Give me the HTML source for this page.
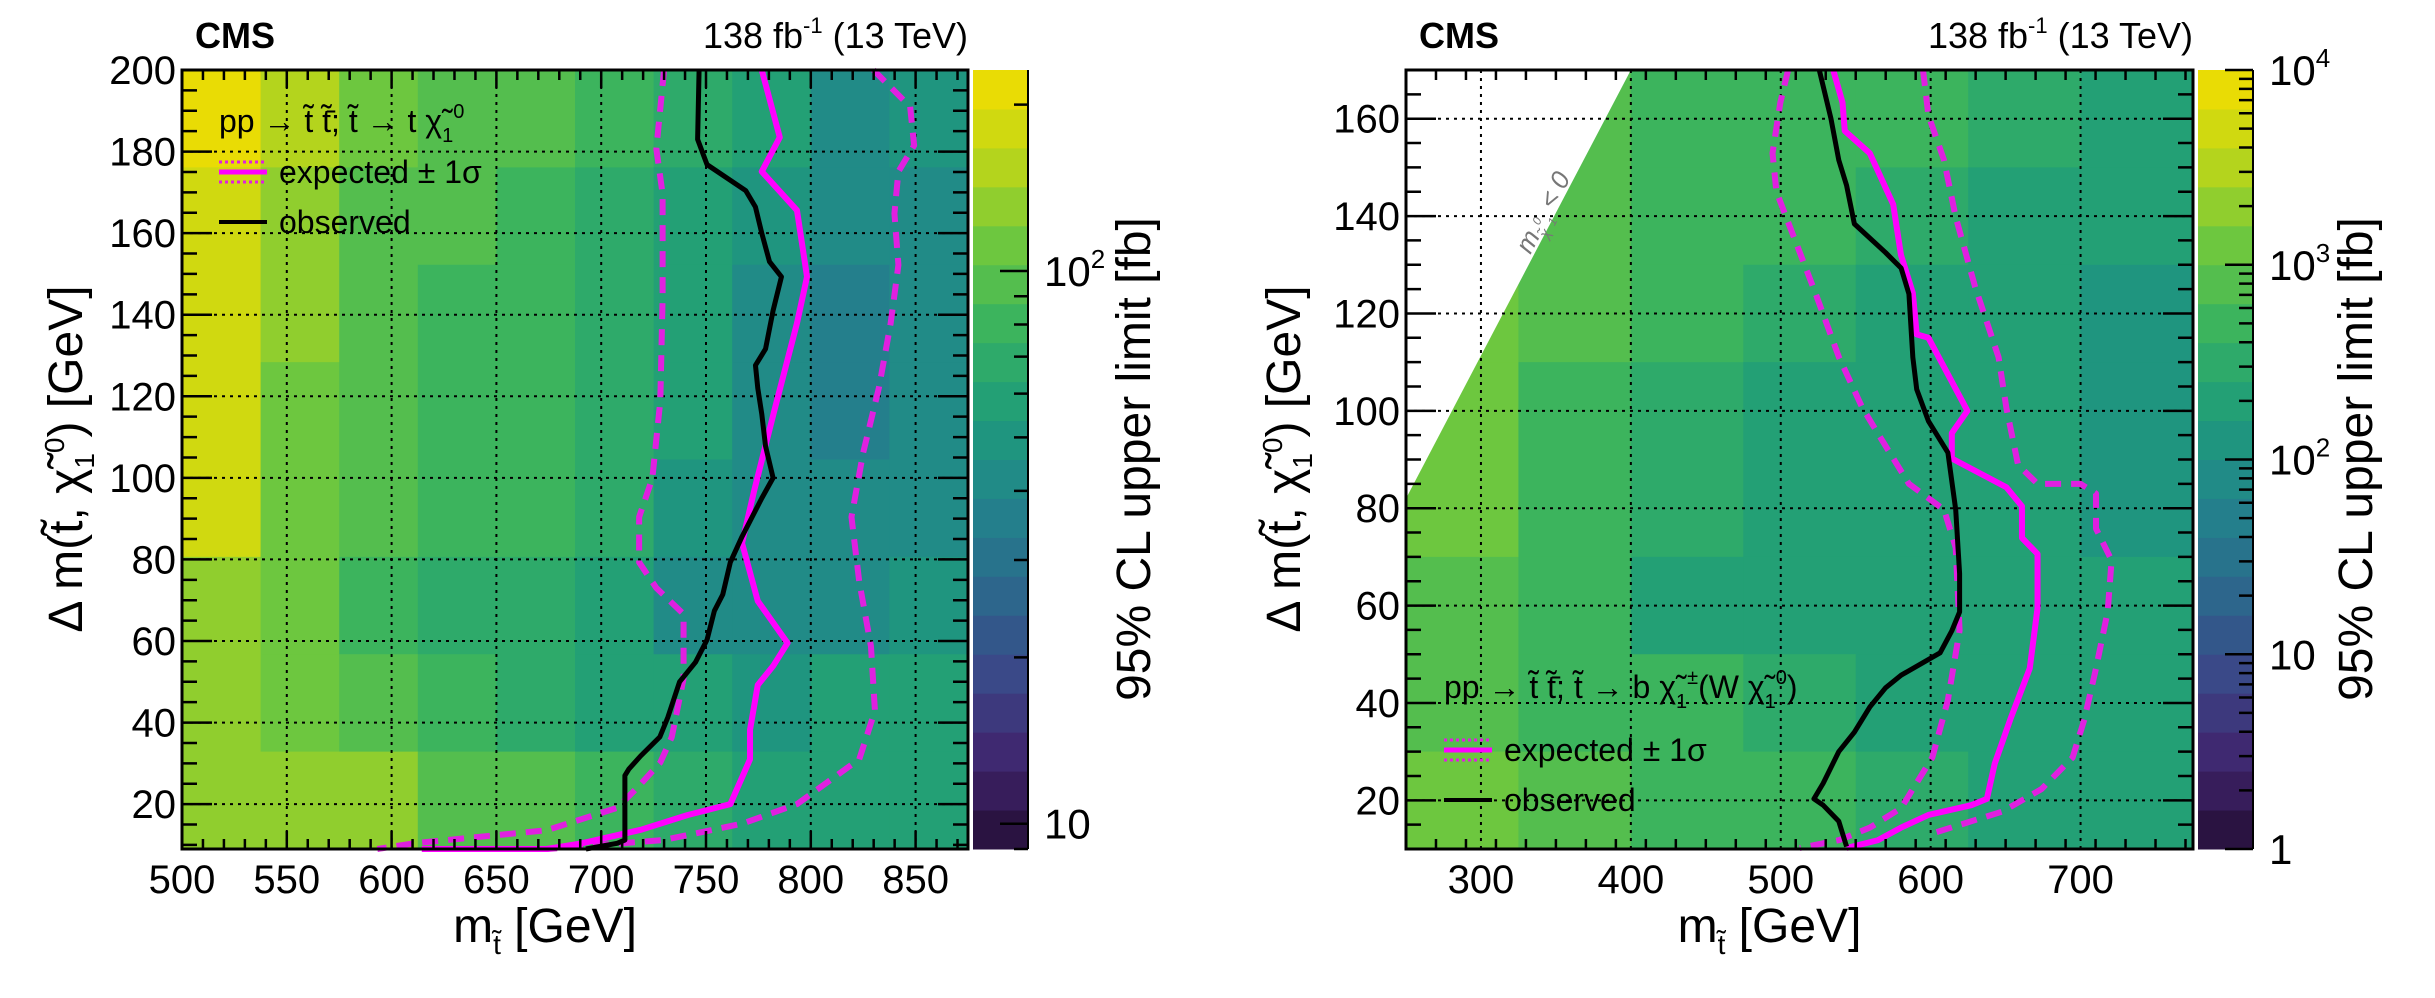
<!DOCTYPE html>
<html><head><meta charset="utf-8">
<style>
html,body{margin:0;padding:0;background:#fff;}
svg{display:block;font-family:"Liberation Sans",sans-serif;}
</style></head>
<body>
<svg id="chart" width="2435" height="998" viewBox="0 0 2435 998" xmlns="http://www.w3.org/2000/svg"></svg>
<script>
// ---------- LEFT PANEL DATA ----------
const leftXTicks = [500,550,600,650,700,750,800,850];
const leftYTicks = [20,40,60,80,100,120,140,160,180,200];
const leftGrid = [ // rows top->bottom (200..9), 10 columns 500..875 (fb)
 [200,150,110,100,90,80,70,55,45,50],
 [180,140,100,90,80,70,60,50,40,40],
 [180,130,95,85,75,70,60,45,38,40],
 [170,120,90,80,75,65,55,45,38,40],
 [170,120,90,80,75,65,50,42,40,45],
 [140,110,85,70,65,55,45,42,45,50],
 [140,120,100,80,70,60,55,50,55,60],
 [130,130,130,100,90,80,70,60,60,60]
];
const leftObsX = [746.7,746,750.5,769,773.6,776.6,780.3,786,782,778.4,773.6,774.7,776.6,778.4,782,776.6,767.2,761.6,758,754,750.5,745,737.4,731.8,728,718.8,713.2,711.3,711.3,707.6,692.7];
const leftObsY = [200,183,176.8,170.4,166.4,160,153,149.3,141,131.6,127.6,122,115.7,107.8,100,95,85.6,79.3,71.4,67.4,60.3,54.8,50,41.3,36.5,31.8,28.6,27,11.2,10.4,8.3];
const leftExpX = [776.6,785.2,776.6,793.4,798.2,793.4,782.2,772.9,767.2,774.7,788.9,782.2,774.7,771,771,761.6,741.1,718.8,690.8,674,614.4];
const leftExpY = [200,183.5,175.1,165.6,149.3,137.9,115.7,96.7,84,69.8,59.5,54,49.2,38.2,31,20,17.3,13.7,10.4,8.9,7.7];
const leftExpLoX = [730,726.3,729.3,729.3,728.2,724.4,718.1,718.1,726.3,739.3,739.3,733.7,728.2,717,707.6,674,610.7,593.2];
const leftExpLoY = [200,180.7,169.6,144.2,118.9,99.9,90.4,79.3,73,66.6,50.8,36.5,30.2,23.9,19.1,13.6,10.4,8];
const leftExpHiX = [829.9,847.4,849.3,841.8,839.9,841.8,838.1,832.5,825,819.4,823.1,828.7,830.6,823.1,793.4,767.2,729.9,674];
const leftExpHiY = [200,191,181.5,175.1,164.8,152.2,137.9,122.1,106.2,90.4,74.6,58.7,42.9,31,20,15.2,11.2,7.3];

// ---------- RIGHT PANEL DATA ----------
const rightXTicks = [300,400,500,600,700];
const rightYTicks = [20,40,60,80,100,120,140,160];
const rightGrid = [ // rows top->bottom (170..10), 7 columns 250..775 (fb)
 [1500,900,600,450,400,300,200],
 [1500,900,500,400,300,250,180],
 [1200,700,400,300,250,200,150],
 [1000,600,350,250,200,180,140],
 [1000,500,300,200,200,180,150],
 [900,500,250,200,180,180,160],
 [900,600,400,300,250,200,180],
 [1100,800,600,400,300,250,250]
];
const rightObsX = [525.7,533.5,538.7,543.9,549.1,569.9,580.3,585.5,588.1,590.7,598.5,611.5,616.7,619.3,619.3,614.1,606.3,580.3,569.9,559.5,549.1,538.7,528.3,522.1,528.3,538.7,543.9];
const rightObsY = [170,160,151.5,146.3,138.4,132.5,129.3,124,111,104.4,97.9,91.4,79.7,66.6,58.7,54.8,50.3,45.7,43.1,39.2,34,30,23.5,20.3,19,15.7,10.5];
const rightExpX = [535,541.2,542.7,559.4,575,580.2,588.1,590.7,598.5,624.5,614.1,614.1,650.5,660.9,660.9,671.3,671.3,666.1,653.1,642.7,637.5,627.1,598.5,580.3,564.7,543.9];
const rightExpY = [170,163.3,157.5,152.9,142.4,132,124.2,115.7,115,100,95.4,90.2,84.3,80.4,73.9,70.6,59.5,47.1,36.6,27.5,20.3,19,17,14.4,11.8,10.2];
const rightExpLoX = [504.9,499.7,494.5,497.1,510.1,523.1,538.7,554.3,564.7,580.3,585.5,608.9,616.7,619.3,611.5,601.1,580.3,559.5,538.7,512.7];
const rightExpLoY = [170,163.3,152.9,145,134.6,124.2,111.1,100.7,95.4,87.6,85,79.7,71.9,54.9,40.6,28.8,18.4,14.4,11.8,10.2];
const rightExpHiX = [594.9,598.5,608.9,616.7,629.7,645.3,650.5,658.3,671.3,699.9,710.3,710.3,720.7,718.1,710.3,702.5,694.7,673.9,647.9,601.1];
const rightExpHiY = [170,160.7,151.5,139.8,125.4,111,100.6,88.9,85,85,83,75.8,69.3,58.8,47.1,36.6,28.8,22.3,17.7,13.2];

const NS="http://www.w3.org/2000/svg";
const svg=document.getElementById('chart');
function mk(tag,attrs,parent){const e=document.createElementNS(NS,tag);for(const k in attrs)e.setAttribute(k,attrs[k]);(parent||svg).appendChild(e);return e;}

const vir=[[36,14,52],[64,36,110],[58,72,136],[44,104,140],[34,132,140],[30,156,122],[56,178,96],[110,200,62],[190,214,24],[245,222,0]];
function viridis(t){t=Math.max(0,Math.min(1,t));const f=t*(vir.length-1);const i=Math.min(vir.length-2,Math.floor(f));const u=f-i;
 const c=vir[i].map((v,k)=>Math.round(v+(vir[i+1][k]-v)*u));return `rgb(${c[0]},${c[1]},${c[2]})`;}
function bandColor(v,lmin,lmax){const t=(Math.log10(v)-lmin)/(lmax-lmin);let lv=Math.floor(t*20);lv=Math.max(0,Math.min(19,lv));return viridis((lv+0.5)/20);}

function panel(o){
 const g=mk('g',{});
 
 
 const sx=v=>o.x0+(v-o.xmin)/(o.xmax-o.xmin)*(o.x1-o.x0);
 const sy=v=>o.y1-(v-o.ymin)/(o.ymax-o.ymin)*(o.y1-o.y0);
 const hm=mk('g',{},g);
 
 
 const nr=o.grid.length,nc=o.grid[0].length;
 const cw=(o.x1-o.x0)/nc,ch=(o.y1-o.y0)/nr;
 o.grid.forEach((row,r)=>row.forEach((v,c)=>{
  const rc=mk('rect',{x:o.x0+c*cw,y:o.y0+r*ch,width:cw+0.6,height:ch+0.6,fill:bandColor(v,o.lmin,o.lmax)},hm);
  
  
 }));
 if(o.excl){
  const p=mk('polygon',{points:`${o.x0},${o.y0} ${o.x0},${sy(o.excl[0])} ${sx(o.excl[2])},${o.y0}`,fill:'#fff'},g);
  
  
  const ang=Math.atan2(sy(o.excl[0])-o.y0,sx(o.excl[2])-o.x0)*180/Math.PI;
  const t=mk('text',{x:0,y:0,'font-size':26,fill:'#777','font-style':'italic',transform:`translate(${sx(333)},${sy(132)}) rotate(${-ang})`},g);
  t.innerHTML='m<tspan font-size="15" dy="8">χ̃</tspan><tspan font-size="12" dy="-14">0</tspan><tspan font-size="12" dy="14">1</tspan><tspan dy="-8"> &lt; 0</tspan>';
  
  
 }
 o.xt.forEach(v=>{const l=mk('line',{x1:sx(v),x2:sx(v),y1:o.y0,y2:o.y1,stroke:'#000','stroke-width':2,'stroke-dasharray':'3 5'},g);
  });
 o.yt.forEach(v=>{const l=mk('line',{x1:o.x0,x2:o.x1,y1:sy(v),y2:sy(v),stroke:'#000','stroke-width':2,'stroke-dasharray':'3 5'},g);
  });
 function curve(xs,ys,st,nm){const pts=xs.map((x,i)=>`${sx(x)},${sy(Math.max(ys[i],o.ymin))}`).join(' ');
  const p=mk('polyline',Object.assign({points:pts,fill:'none','stroke-linejoin':'round'},st),g);
  }
 curve(o.loX,o.loY,{stroke:'#e020e0','stroke-width':6,'stroke-dasharray':'16 10'},'expected-minus-1sigma');
 curve(o.hiX,o.hiY,{stroke:'#e020e0','stroke-width':6,'stroke-dasharray':'16 10'},'expected-plus-1sigma');
 curve(o.expX,o.expY,{stroke:'#ff00ff','stroke-width':6},'expected-limit');
 curve(o.obsX,o.obsY,{stroke:'#000','stroke-width':5},'observed-limit');
 const fr=mk('rect',{x:o.x0,y:o.y0,width:o.x1-o.x0,height:o.y1-o.y0,fill:'none',stroke:'#000','stroke-width':3},g);
 
 let d='';
 for(let v=o.xmin;v<=o.xmax+0.01;v+=o.xminor){const maj=Math.abs((v-o.xt[0])%o.xmajor)<0.01||Math.abs((v-o.xt[0])%o.xmajor-o.xmajor)<0.01;const L=maj?18:10;
  d+=`M${sx(v)},${o.y1}v${-L}M${sx(v)},${o.y0}v${L}`;}
 for(let v=Math.ceil(o.ymin/o.yminor)*o.yminor;v<=o.ymax+0.01;v+=o.yminor){const maj=Math.abs(v%o.ymajor)<0.01;const L=maj?30:15;
  d+=`M${o.x0},${sy(v)}h${L}M${o.x1},${sy(v)}h${-L}`;}
 const tk=mk('path',{d:d,stroke:'#000','stroke-width':2.5,fill:'none'},g);
 
 o.xt.forEach(v=>{const t=mk('text',{x:sx(v),y:893,'font-size':40,'text-anchor':'middle'},g);t.textContent=v;
  });
 o.yt.forEach(v=>{const t=mk('text',{x:o.x0-6,y:sy(v)+14,'font-size':40,'text-anchor':'end'},g);t.textContent=v;
  });
 const xt=mk('text',{x:(o.x0+o.x1)/2-30,y:942,'font-size':48,'text-anchor':'middle'},g);
 xt.innerHTML='m<tspan font-size="28" dy="12">t̃</tspan><tspan dy="-12"> [GeV]</tspan>';
 
 const yt=mk('text',{x:0,y:0,'font-size':48,'text-anchor':'middle',transform:`translate(${o.ytx},${459}) rotate(-90)`},g);
 yt.innerHTML='Δ m(t̃, χ̃<tspan font-size="28" dy="12">1</tspan><tspan font-size="28" dy="-30">0</tspan><tspan dy="18">) [GeV]</tspan>';
 
 const cb=mk('g',{},g);
 for(let i=0;i<20;i++){const y=o.y1-(i+1)*(o.y1-o.y0)/20;
  mk('rect',{x:o.cx0,y:y,width:o.cx1-o.cx0,height:(o.y1-o.y0)/20+0.5,fill:viridis((i+0.5)/20)},cb);}
 const cy=l=>o.y1-(l-o.lmin)/(o.lmax-o.lmin)*(o.y1-o.y0);
 let cd='';
 for(let dcd=Math.floor(o.lmin);dcd<=Math.ceil(o.lmax);dcd++){for(let m=1;m<10;m++){const l=dcd+Math.log10(m);if(l<o.lmin-1e-6||l>o.lmax+1e-6)continue;
  cd+=`M${o.cx1},${cy(l)}h${m==1?-28:-14}`;}}
 mk('path',{d:cd,stroke:'#000','stroke-width':2.5},cb);
 mk('line',{x1:o.cx1,x2:o.cx1,y1:o.y0,y2:o.y1,stroke:'#000','stroke-width':2},cb);
 o.cl.forEach(l=>{const t=mk('text',{x:o.cx1+16,y:cy(l)+15,'font-size':42},cb);
  t.innerHTML=l==0?'1':l==1?'10':`10<tspan font-size="26" dy="-18">${l}</tspan>`;
  });
 const ct=mk('text',{x:0,y:0,'font-size':48,'text-anchor':'middle',transform:`translate(${o.ctx},459) rotate(-90)`},g);
 ct.textContent='95% CL upper limit [fb]';
 
 const cms=mk('text',{x:o.x0+13,y:48,'font-size':36,'font-weight':'bold'},g);cms.textContent='CMS';
 
 const lu=mk('text',{x:o.x1,y:48,'font-size':36,'text-anchor':'end'},g);
 lu.innerHTML='138 fb<tspan font-size="22" dy="-15">-1</tspan><tspan dy="15"> (13 TeV)</tspan>';
 
 const lg=mk('g',{},g);
 const L=o.leg;
 const tt=mk('text',{x:L.x,y:L.ty,'font-size':32},lg);tt.innerHTML=o.procText;
 
 mk('line',{x1:L.x,x2:L.x+48,y1:L.ey-10,y2:L.ey-10,stroke:'#e020e0','stroke-width':3,'stroke-dasharray':'3 3'},lg);
 mk('line',{x1:L.x,x2:L.x+48,y1:L.ey+10,y2:L.ey+10,stroke:'#e020e0','stroke-width':3,'stroke-dasharray':'3 3'},lg);
 mk('line',{x1:L.x,x2:L.x+48,y1:L.ey,y2:L.ey,stroke:'#ff00ff','stroke-width':5},lg);
 const e=mk('text',{x:L.x+60,y:L.ey+11,'font-size':32},lg);e.textContent='expected ± 1σ';
 
 mk('line',{x1:L.x,x2:L.x+48,y1:L.oy,y2:L.oy,stroke:'#000','stroke-width':4},lg);
 const ob=mk('text',{x:L.x+60,y:L.oy+11,'font-size':32},lg);ob.textContent='observed';
 
}

panel({name:'left-panel',x0:182,x1:968,y0:70,y1:849,xmin:500,xmax:875,ymin:9,ymax:200,
 xt:leftXTicks,yt:leftYTicks,xmajor:50,xminor:10,ymajor:20,yminor:5,grid:leftGrid,lmin:Math.log10(9),lmax:Math.log10(231),
 obsX:leftObsX,obsY:leftObsY,expX:leftExpX,expY:leftExpY,loX:leftExpLoX,loY:leftExpLoY,hiX:leftExpHiX,hiY:leftExpHiY,
 cx0:973,cx1:1028,cl:[1,2],ctx:1150,ytx:82,
 leg:{x:219,ty:132,ey:172,oy:222},
 procText:'pp → t̃ t̃̄; t̃ → t χ̃<tspan font-size="20" dy="10">1</tspan><tspan font-size="20" dy="-24">0</tspan>'});

panel({name:'right-panel',x0:1406,x1:2193,y0:70,y1:849,xmin:250,xmax:775,ymin:10,ymax:170,
 xt:rightXTicks,yt:rightYTicks,xmajor:100,xminor:20,ymajor:20,yminor:5,grid:rightGrid,lmin:0,lmax:4,excl:[82,null,400],
 obsX:rightObsX,obsY:rightObsY,expX:rightExpX,expY:rightExpY,loX:rightExpLoX,loY:rightExpLoY,hiX:rightExpHiX,hiY:rightExpHiY,
 cx0:2198,cx1:2253,cl:[0,1,2,3,4],ctx:2372,ytx:1300,
 leg:{x:1444,ty:698,ey:750,oy:800},
 procText:'pp → t̃ t̃̄; t̃ → b χ̃<tspan font-size="20" dy="10">1</tspan><tspan font-size="20" dy="-24">±</tspan><tspan dy="14">(W χ̃</tspan><tspan font-size="20" dy="10">1</tspan><tspan font-size="20" dy="-24">0</tspan><tspan dy="14">)</tspan>'});
</script>
</body></html>
